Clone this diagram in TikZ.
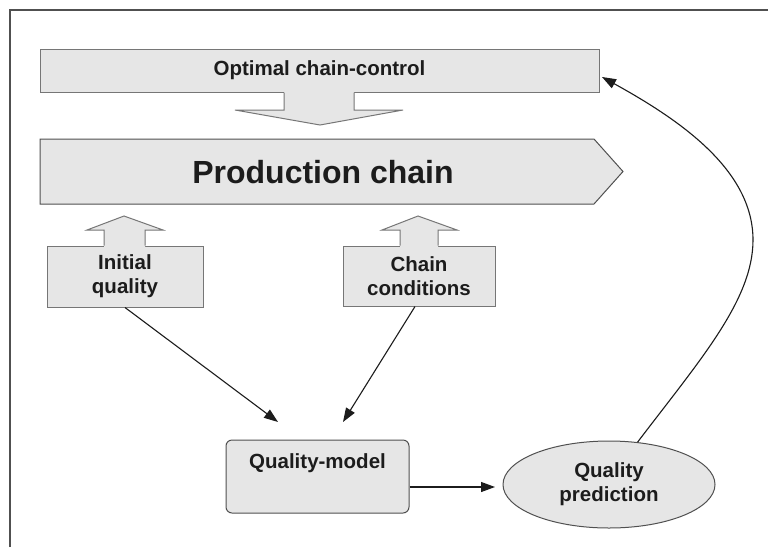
\documentclass[tikz,border=0pt]{standalone}
\usepackage{fontspec}
\setmainfont{Liberation Sans}
\usetikzlibrary{arrows.meta,shapes.geometric,calc}
\definecolor{boxfill}{HTML}{E6E6E6}
\definecolor{boxline}{HTML}{767676}
\definecolor{ink}{HTML}{1C1C1C}
\definecolor{framecol}{HTML}{505050}
\begin{document}
\begin{tikzpicture}[x=1pt,y=-1pt,
  lbl/.style={font=\bfseries\fontsize{20.5}{24}\selectfont, text=ink, align=center},
  biglbl/.style={font=\bfseries\fontsize{32}{36}\selectfont, text=ink},
  panel/.style={draw=boxline, fill=boxfill, line width=1pt, inner sep=0pt},
  arrowfill/.style={fill=boxfill},
  arrowedge/.style={draw=boxline, line width=1pt, line join=miter},
  link/.style={draw=ink, line width=1.1pt, -{Triangle[length=14pt,width=10pt]}}]
\useasboundingbox (0,0) rectangle (768,547);
\fill[white] (0,0) rectangle (768,547);

% page frame (left and top edges)
\draw[framecol, line width=1.5pt] (10,547) -- (10,10) -- (768,10);

% chain control box and its block arrow down
\node[panel, minimum width=559pt, minimum height=43pt] (opt) at (319.5,70.5) {};
\node[lbl] (optlbl) at (opt.center) {Optimal chain-control};
\fill[boxfill] (284,91) -- (284,110) -- (235,110) -- (320,125) -- (403,110) -- (354,110) -- (354,91) -- cycle;
\draw[arrowedge] (284,92.5) -- (284,110) -- (235,110) -- (320,125) -- (403,110) -- (354,110) -- (354,92.5);

% production chain (pointed band)
\draw[draw=framecol, fill=boxfill, line width=1pt]
  (40,139) -- (594,139) -- (623,171.5) -- (594,204) -- (40,204) -- cycle;
\node[biglbl] (prod) at (323,172) {Production chain};

% input boxes with block arrows up
\node[panel, minimum width=156pt, minimum height=61pt] (init) at (125,276.5) {};
\node[lbl] (initlbl) at (init.center) {Initial\\quality};
\fill[boxfill] (104,247) -- (104,230) -- (87,230) -- (124,216) -- (163,230) -- (145,230) -- (145,247) -- cycle;
\draw[arrowedge] (104,245.5) -- (104,230) -- (87,230) -- (124,216) -- (163,230) -- (145,230) -- (145,245.5);

\node[panel, minimum width=152pt, minimum height=60pt] (cond) at (419,276) {};
\node[lbl] (condlbl) at (cond.center) {Chain\\conditions};
\fill[boxfill] (400,247) -- (400,230) -- (382,230) -- (418,216) -- (457,230) -- (438,230) -- (438,247) -- cycle;
\draw[arrowedge] (400,245.5) -- (400,230) -- (382,230) -- (418,216) -- (457,230) -- (438,230) -- (438,245.5);

% model and prediction
\node[panel, draw=framecol, rounded corners=6pt, minimum width=183pt, minimum height=73pt] (model) at (317.5,476.5) {};
\node[lbl] (modellbl) at (317.5,463) {Quality-model};
\node[panel, draw=framecol, ellipse, minimum width=212pt, minimum height=87pt] (pred) at (609,484.5) {};
\node[lbl] (predlbl) at (pred.center) {Quality\\prediction};

% connectors
\coordinate (tipA) at (278,422);
\coordinate (tipB) at (343,422);
\coordinate (tipC) at (495,487);
\coordinate (tipD) at (602,77);
\draw[link] (init.south) -- (tipA);
\draw[link] ($(cond.south)+(-4,0)$) -- (tipB);
\draw[link] (model.east |- tipC) -- (tipC);
\draw[link] (pred.56) .. controls (700,360) and (753,300) .. (753,240)
  .. controls (753,170) and (680,120) .. (tipD);
\end{tikzpicture}
\end{document}
